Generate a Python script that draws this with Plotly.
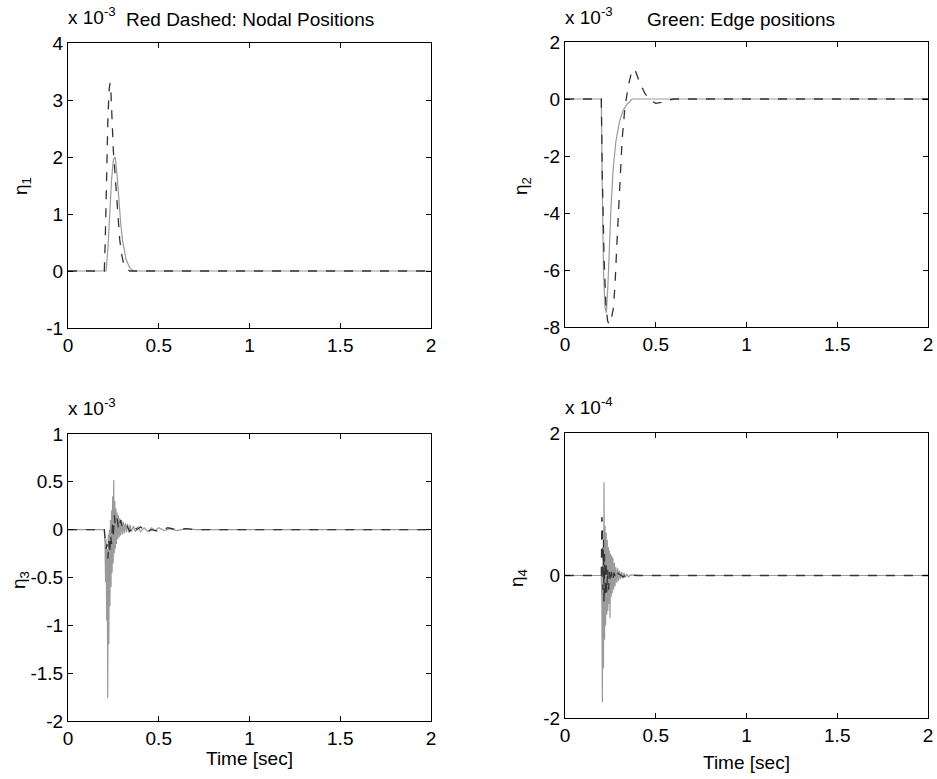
import plotly.graph_objects as go

# ---- time histories (values shown in the axis multiplier units) ----
# eta_1  (x 1e-3)
t1_nodal = [0, 0.2, 0.205, 0.212, 0.22, 0.227, 0.232, 0.237, 0.243, 0.25, 0.257, 0.265, 0.275, 0.285, 0.295, 0.305, 0.32, 0.34, 2.0]
v1_nodal = [0, 0, 0.5, 1.6, 2.7, 3.2, 3.3, 3.1, 2.6, 2.1, 1.8, 1.4, 0.9, 0.55, 0.3, 0.15, 0.05, 0, 0]
t1_edge = [0, 0.21, 0.22, 0.23, 0.24, 0.25, 0.26, 0.27, 0.28, 0.29, 0.30, 0.31, 0.32, 0.34, 0.36, 2.0]
v1_edge = [0, 0, 0.4, 1.0, 1.6, 1.95, 2.0, 1.7, 1.25, 0.85, 0.55, 0.35, 0.2, 0.06, 0, 0]

# eta_2  (x 1e-3)
t2_nodal = [0, 0.2, 0.205, 0.215, 0.225, 0.235, 0.245, 0.255, 0.265, 0.275, 0.285, 0.295, 0.305, 0.315, 0.33, 0.35, 0.365, 0.378, 0.39, 0.41, 0.44, 0.47, 0.5, 0.53, 0.56, 0.6, 2.0]
v2_nodal = [0, 0, -2.5, -5.5, -7.2, -7.8, -7.9, -7.7, -7.4, -6.6, -5.2, -3.8, -2.4, -1.4, -0.3, 0.5, 0.9, 1.05, 0.95, 0.6, 0.2, -0.05, -0.15, -0.12, -0.05, 0, 0]
t2_edge = [0, 0.2, 0.205, 0.212, 0.22, 0.228, 0.236, 0.245, 0.255, 0.265, 0.28, 0.30, 0.32, 0.34, 0.37, 2.0]
v2_edge = [0, 0, -3, -6, -7.3, -7.5, -6.6, -5.0, -3.6, -2.5, -1.5, -0.8, -0.4, -0.2, 0, 0]

# eta_3  (x 1e-3)
t3_nodal = [0, 0.2, 0.205, 0.21, 0.215, 0.22, 0.225, 0.23, 0.235, 0.24, 0.245, 0.25, 0.255, 0.26, 0.27, 0.28, 0.29, 0.30, 0.32, 0.34, 0.36, 0.38, 0.40, 0.43, 0.46, 0.5, 0.55, 0.6, 0.65, 0.7, 2.0]
v3_nodal = [0, 0, -0.1, -0.2, -0.15, -0.3, -0.12, -0.25, -0.05, -0.15, 0.05, -0.05, 0.15, 0.05, 0.12, 0.0, 0.1, 0.02, 0.06, -0.02, 0.05, 0.0, 0.03, -0.03, 0.0, -0.02, 0.02, 0.0, 0.01, 0, 0]
t3_edge = [0, 0.200, 0.204, 0.207, 0.210, 0.213, 0.216, 0.219, 0.222, 0.225,
           0.228, 0.231, 0.234, 0.237, 0.240, 0.243, 0.246, 0.249, 0.252, 0.255,
           0.258, 0.261, 0.264, 0.267, 0.270, 0.274, 0.278, 0.282, 0.286, 0.290,
           0.295, 0.300, 0.305, 0.310, 0.316, 0.322, 0.328, 0.335, 0.342, 0.350,
           0.360, 0.370, 0.385, 0.40, 0.42, 0.44, 0.46, 0.48, 0.50, 0.53,
           0.56, 0.60, 0.65, 0.70, 0.75, 2.0]
v3_edge = [0, 0, -0.15, -0.55, -0.1, -0.95, -0.2, -1.76, -0.05, -1.2,
           0.0, -0.8, 0.1, -0.6, 0.2, -0.45, 0.35, -0.35, 0.52, -0.25,
           0.3, -0.2, 0.22, -0.15, 0.18, -0.1, 0.15, -0.08, 0.12, -0.06,
           0.1, -0.05, 0.08, -0.04, 0.07, -0.03, 0.06, -0.03, 0.05, -0.02,
           0.04, -0.02, 0.03, -0.02, 0.02, -0.02, 0.02, -0.01, 0.02, -0.01,
           0.01, -0.01, 0.01, 0, 0, 0]

# eta_4  (x 1e-4)
t4_nodal = [0, 0.2, 0.203, 0.206, 0.209, 0.212, 0.215, 0.218, 0.222, 0.226, 0.230, 0.235, 0.240, 0.245, 0.250, 0.256, 0.262, 0.27, 0.28, 0.29, 0.30, 0.32, 0.34, 0.37, 0.40, 2.0]
v4_nodal = [0, 0, 0.82, 0.75, -0.2, 0.5, -0.4, 0.3, -0.3, 0.2, -0.25, 0.1, -0.2, 0.05, -0.1, 0.05, -0.08, 0.04, -0.05, 0.03, 0.02, -0.02, 0.01, 0.0, 0, 0]
t4_edge = [0, 0.2, 0.203, 0.206, 0.209, 0.212, 0.215, 0.218, 0.221, 0.224,
           0.227, 0.230, 0.233, 0.236, 0.239, 0.242, 0.245, 0.248, 0.251, 0.254,
           0.257, 0.260, 0.264, 0.268, 0.272, 0.276, 0.280, 0.285, 0.290, 0.295,
           0.300, 0.306, 0.312, 0.318, 0.325, 0.332, 0.34, 0.35, 0.36, 0.38,
           0.40, 2.0]
v4_edge = [0, 0, -0.3, -1.78, 0.4, -1.3, 1.31, -0.9, 0.7, -0.7,
           0.6, -0.55, 0.5, -0.5, 0.4, -0.4, 0.35, -0.6, 0.3, -0.3,
           0.28, -0.25, 0.25, -0.2, 0.18, -0.15, 0.12, -0.1, 0.1, -0.08,
           0.07, -0.05, 0.05, -0.04, 0.04, -0.03, 0.02, -0.02, 0.01, 0.0,
           0, 0]

# axis ticks
x_ticks = [0, 0.5, 1, 1.5, 2]
x_ticktext = ["0", "0.5", "1", "1.5", "2"]
y1_ticks = [-1, 0, 1, 2, 3, 4]
y2_ticks = [-8, -6, -4, -2, 0, 2]
y3_ticks = [-2, -1.5, -1, -0.5, 0, 0.5, 1]
y3_ticktext = ["-2", "-1.5", "-1", "-0.5", "0", "0.5", "1"]
y4_ticks = [-2, 0, 2]

W, H = 937, 779
FONT = "Liberation Sans, Arial, sans-serif"
FS = 19

def px(x):
    return x / W

def py(y):
    return 1 - y / H

# panel boxes in pixels (left, right, top, bottom)
boxes = [(68, 431, 43, 328), (565, 928, 42, 327), (68, 431, 434, 721), (565, 928, 433, 718)]

nodal_style = dict(color="#333333", width=1.3, dash="dash")
edge_style = dict(color="#9a9a9a", width=1.2)

fig = go.Figure()
series = [
    (t1_nodal, v1_nodal, t1_edge, v1_edge),
    (t2_nodal, v2_nodal, t2_edge, v2_edge),
    (t3_nodal, v3_nodal, t3_edge, v3_edge),
    (t4_nodal, v4_nodal, t4_edge, v4_edge),
]
for i, (tn, vn, te, ve) in enumerate(series, start=1):
    xa = "x" if i == 1 else f"x{i}"
    ya = "y" if i == 1 else f"y{i}"
    fig.add_trace(go.Scatter(x=te, y=ve, mode="lines", line=edge_style,
                             xaxis=xa, yaxis=ya, showlegend=False))
    fig.add_trace(go.Scatter(x=tn, y=vn, mode="lines", line=nodal_style,
                             xaxis=xa, yaxis=ya, showlegend=False))

axis_common = dict(showline=True, linecolor="black", linewidth=1, mirror="ticks",
                   ticks="inside", ticklen=5, tickcolor="black", showgrid=False,
                   zeroline=False, automargin=False,
                   tickfont=dict(family=FONT, size=FS, color="black"))

y_specs = [
    ([-1, 4], y1_ticks, [str(v) for v in y1_ticks]),
    ([-8, 2], y2_ticks, [str(v) for v in y2_ticks]),
    ([-2, 1], y3_ticks, y3_ticktext),
    ([-2, 2], y4_ticks, [str(v) for v in y4_ticks]),
]

layout = dict(width=W, height=H, margin=dict(l=0, r=0, t=0, b=0, pad=0),
              paper_bgcolor="white", plot_bgcolor="white", showlegend=False)
for i, ((l, r, t, b), (yr, yt, ytt)) in enumerate(zip(boxes, y_specs), start=1):
    xk = "xaxis" if i == 1 else f"xaxis{i}"
    yk = "yaxis" if i == 1 else f"yaxis{i}"
    xa = "x" if i == 1 else f"x{i}"
    ya = "y" if i == 1 else f"y{i}"
    layout[xk] = dict(axis_common, domain=[px(l), px(r)], range=[0, 2],
                      tickvals=x_ticks, ticktext=x_ticktext, anchor=ya)
    layout[yk] = dict(axis_common, domain=[py(b), py(t)], range=yr,
                      tickvals=yt, ticktext=ytt, anchor=xa)

fig.update_layout(**layout)

txt = dict(family=FONT, size=FS, color="black")
annotations = [
    # exponent multipliers
    dict(x=px(66), y=py(30), text="x 10<sup>-3</sup>", xanchor="left", yanchor="bottom"),
    dict(x=px(563), y=py(30), text="x 10<sup>-3</sup>", xanchor="left", yanchor="bottom"),
    dict(x=px(66), y=py(421), text="x 10<sup>-3</sup>", xanchor="left", yanchor="bottom"),
    dict(x=px(563), y=py(420), text="x 10<sup>-4</sup>", xanchor="left", yanchor="bottom"),
    # titles
    dict(x=px(250), y=py(20), text="Red Dashed: Nodal Positions", xanchor="center", yanchor="middle"),
    dict(x=px(741), y=py(19), text="Green: Edge positions", xanchor="center", yanchor="middle"),
    # x labels
    dict(x=px(249), y=py(758), text="Time [sec]", xanchor="center", yanchor="middle"),
    dict(x=px(746), y=py(762), text="Time [sec]", xanchor="center", yanchor="middle"),
    # y labels
    dict(x=px(22), y=py(186), text="η<sub>1</sub>", textangle=-90, xanchor="center", yanchor="middle"),
    dict(x=px(522), y=py(186), text="η<sub>2</sub>", textangle=-90, xanchor="center", yanchor="middle"),
    dict(x=px(20), y=py(580), text="η<sub>3</sub>", textangle=-90, xanchor="center", yanchor="middle"),
    dict(x=px(518), y=py(578), text="η<sub>4</sub>", textangle=-90, xanchor="center", yanchor="middle"),
]
for a in annotations:
    a.update(xref="paper", yref="paper", showarrow=False, font=txt)
fig.update_layout(annotations=annotations)

fig.write_html("out.html")
